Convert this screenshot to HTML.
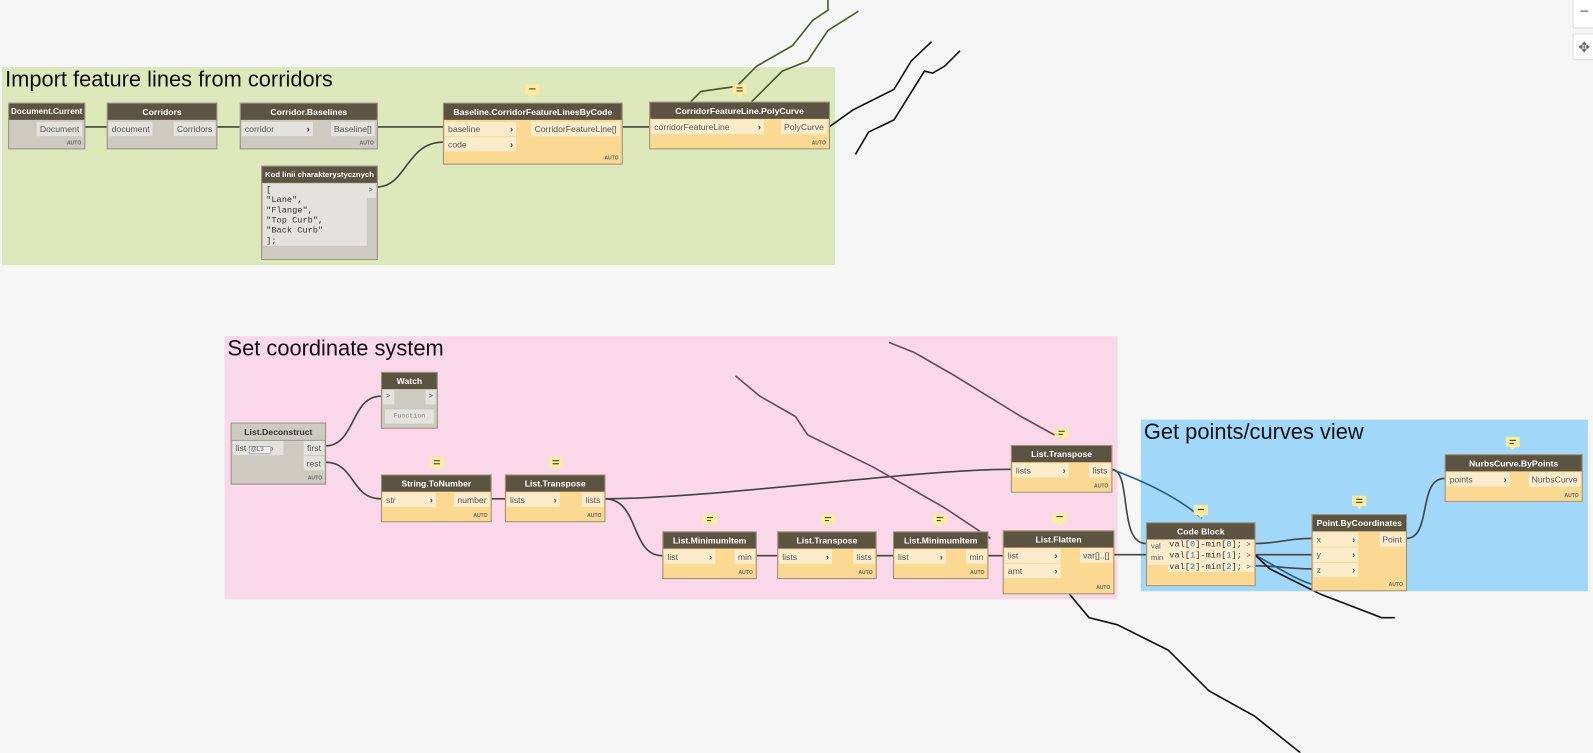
<!DOCTYPE html>
<html><head><meta charset="utf-8"><style>
body{margin:0;width:1593px;height:753px;background:#f6f6f6;position:relative;overflow:hidden;font-family:"Liberation Sans",sans-serif}
#w{position:absolute;left:0;top:0;width:1568px;height:741px;transform:scale(1.0159);transform-origin:0 0}
.g{position:absolute}
.gt{position:absolute;left:3px;top:0;font-size:21.5px;color:#111;white-space:nowrap}
.n{position:absolute;border:1px solid #9a917f;box-sizing:border-box;font-size:8.5px;color:#555}
.o{background:#fbd993}
.y{background:#cdcac2}
.h{height:16px;background:#5c5443;color:#fff;font-weight:bold;font-size:8.5px;text-align:center;line-height:16px;white-space:nowrap;overflow:hidden}
.p{position:absolute;height:14px;line-height:14px;padding:0 3px;white-space:nowrap;box-sizing:border-box}
.o .p{background:#fdeccb}
.y .p{background:#e4e2dd}
.au{position:absolute;right:3px;bottom:2px;font-size:5px;font-weight:bold;color:#666}
.ar{position:absolute;font-weight:bold;font-size:9px;color:#444}
.c{position:absolute;width:14px;height:10px;background:#fbeba0}
.c:after{content:"";position:absolute;left:4px;top:10px;border:3px solid transparent;border-top:3px solid #fbeba0}
.c i{position:absolute;left:4px;width:6px;height:1px;background:#333}
.code{font-family:"Liberation Mono",monospace;font-size:8.5px;color:#333}
</style></head><body><div id="w">
<div class="g" style="left:2px;top:66px;width:820px;height:195px;background:#dde8bb"><div class="gt" style="top:0">Import feature lines from corridors</div></div>
<div class="g" style="left:221px;top:331px;width:879px;height:259px;background:#fad7e9"><div class="gt">Set coordinate system</div></div>
<div class="g" style="left:1123px;top:413px;width:440px;height:169px;background:#a1d7f8"><div class="gt">Get points/curves view</div></div>

<svg width="1568" height="741" style="position:absolute;left:0;top:0" fill="none" stroke="#444" stroke-width="1.6">
<path d="M83 125H105M213 125H236M371 125H436"/>
<path d="M371 184C400 184 400 140 436 140"/>
<path d="M612 125H639"/>
<path d="M320 439C350 439 345 390 375 390"/>
<path d="M320 455C350 455 345 491 375 491"/>
<path d="M483 491H497"/>
<path d="M595 491C700 491 900 462 995 462"/>
<path d="M595 491C630 491 620 547 652 547"/>
<path d="M744 547H765M862 547H879M972 547H987"/>
<path d="M1094 462C1115 462 1100 535 1128 535"/>
<path d="M1096 546H1128"/>
<path d="M1235 535C1260 535 1265 530 1291 530M1235 546H1291M1235 557C1260 557 1265 560 1291 560"/>
<path d="M1384 530C1410 530 1395 471 1422 471"/>
<path d="M1094 462C1130 475 1160 490 1183 510" stroke="#1f6188"/>
<path d="M1235 546C1260 560 1275 570 1291 575" stroke="#1f6188"/>
<path d="M875 337L900 347L940 370L1005 410L1045 432" stroke="#6a4b5e"/>
<path d="M724 370L748 390L783 410L795 428L860 460L930 500L975 530" stroke="#6a4b5e"/>
<path d="M680 100L690 90L725 85L745 65L780 45L800 20L815 10V0" stroke="#4a5a2a"/>
<path d="M740 100L770 70L795 60L815 30L845 11" stroke="#4a5a2a"/>
<path d="M816 125L840 108L880 88L897 60L917 41" stroke="#111"/>
<path d="M842 152L855 130L880 118L910 70L918 72L930 65L945 50" stroke="#111"/>
<path d="M1052 584L1072 608L1100 615L1150 640L1190 680L1235 705L1280 741" stroke="#111"/>
<path d="M1235 546L1250 560L1300 585L1360 608H1373" stroke="#111"/>
</svg>

<div class="n y" style="left:8px;top:101px;width:76px;height:46px"><div class="h" style="font-size:8px">Document.Current</div><div class="p" style="right:2px;top:18px">Document</div><div class="au">AUTO</div></div>
<div class="n y" style="left:105px;top:101px;width:109px;height:46px"><div class="h">Corridors</div><div class="p" style="left:1px;top:18px">document</div><div class="p" style="right:1px;top:18px">Corridors</div></div>
<div class="n y" style="left:236px;top:101px;width:136px;height:46px"><div class="h">Corridor.Baselines</div><div class="p" style="left:1px;top:18px;width:70px">corridor<span class="ar" style="right:3px">›</span></div><div class="p" style="right:2px;top:18px">Baseline[]</div><div class="au">AUTO</div></div>
<div class="n y" style="left:257px;top:163px;width:115px;height:93px"><div class="h" style="font-size:7.6px">Kod linii charakterystycznych</div><div class="p code" style="left:1px;top:17px;width:102px;height:61px;line-height:10px;padding-top:1px">[<br>"Lane",<br>"Flange",<br>"Top Curb",<br>"Back Curb"<br>];</div><div class="p" style="right:1px;top:17px;font-size:7px">&gt;</div></div>
<div class="n o" style="left:436px;top:101px;width:177px;height:61px"><div class="h">Baseline.CorridorFeatureLinesByCode</div><div class="p" style="left:1px;top:18px;width:70px">baseline<span class="ar" style="position:absolute;right:3px">›</span></div><div class="p" style="left:1px;top:33px;width:70px">code<span class="ar" style="position:absolute;right:3px">›</span></div><div class="p" style="right:2px;top:18px">CorridorFeatureLine[]</div><div class="au">AUTO</div></div>
<div class="n o" style="left:639px;top:100px;width:178px;height:47px"><div class="h">CorridorFeatureLine.PolyCurve</div><div class="p" style="left:1px;top:17px;width:111px">corridorFeatureLine<span class="ar" style="position:absolute;right:3px">›</span></div><div class="p" style="right:2px;top:17px">PolyCurve</div><div class="au">AUTO</div></div>

<div class="n y" style="left:227px;top:416px;width:94px;height:61px"><div class="h" style="background:#cdcac2;color:#333;border-bottom:1px solid #999">List.Deconstruct</div><div class="p" style="left:1px;top:17px;width:50px">list <span style="border:1px solid #aaa;font-size:6px;padding:0 6px 0 1px;background:#eee">@L3</span>›</div><div class="p" style="right:1px;top:17px">first</div><div class="p" style="right:1px;top:32px">rest</div><div class="au">AUTO</div></div>
<div class="n y" style="left:375px;top:366px;width:56px;height:56px"><div class="h">Watch</div><div class="p" style="left:1px;top:17px;width:11px;font-size:7px">&gt;</div><div class="p" style="right:1px;top:17px;width:10px;font-size:7px">&gt;</div><div class="p code" style="left:3px;top:36px;width:48px;font-size:6.5px;color:#888;text-align:center">Function</div></div>
<div class="c" style="left:423px;top:450px"><i style="top:3px"></i><i style="top:6px"></i></div>
<div class="n o" style="left:375px;top:467px;width:109px;height:47px"><div class="h">String.ToNumber</div><div class="p" style="left:1px;top:17px;width:52px">str<span class="ar" style="position:absolute;right:3px">›</span></div><div class="p" style="right:1px;top:17px">number</div><div class="au">AUTO</div></div>
<div class="c" style="left:540px;top:450px"><i style="top:3px"></i><i style="top:6px"></i></div>
<div class="n o" style="left:497px;top:467px;width:99px;height:47px"><div class="h">List.Transpose</div><div class="p" style="left:1px;top:17px;width:52px">lists<span class="ar" style="position:absolute;right:3px">›</span></div><div class="p" style="right:1px;top:17px">lists</div><div class="au">AUTO</div></div>
<div class="c" style="left:692px;top:506px"><i style="top:3px"></i><i style="top:6px;width:4px"></i></div>
<div class="n o" style="left:652px;top:523px;width:93px;height:47px"><div class="h">List.MinimumItem</div><div class="p" style="left:1px;top:17px;width:50px">list<span class="ar" style="position:absolute;right:3px">›</span></div><div class="p" style="right:1px;top:17px">min</div><div class="au">AUTO</div></div>
<div class="c" style="left:808px;top:506px"><i style="top:3px"></i><i style="top:6px;width:4px"></i></div>
<div class="n o" style="left:765px;top:523px;width:98px;height:47px"><div class="h">List.Transpose</div><div class="p" style="left:1px;top:17px;width:52px">lists<span class="ar" style="position:absolute;right:3px">›</span></div><div class="p" style="right:1px;top:17px">lists</div><div class="au">AUTO</div></div>
<div class="c" style="left:918px;top:506px"><i style="top:3px"></i><i style="top:6px;width:4px"></i></div>
<div class="n o" style="left:879px;top:523px;width:94px;height:47px"><div class="h">List.MinimumItem</div><div class="p" style="left:1px;top:17px;width:50px">list<span class="ar" style="position:absolute;right:3px">›</span></div><div class="p" style="right:1px;top:17px">min</div><div class="au">AUTO</div></div>
<div class="c" style="left:1036px;top:505px"><i style="top:3px"></i></div>
<div class="n o" style="left:987px;top:522px;width:110px;height:63px"><div class="h">List.Flatten</div><div class="p" style="left:1px;top:17px;width:55px">list<span class="ar" style="position:absolute;right:3px">›</span></div><div class="p" style="left:1px;top:32px;width:55px">amt<span class="ar" style="position:absolute;right:3px">›</span></div><div class="p" style="right:1px;top:17px">var[]..[]</div><div class="au">AUTO</div></div>
<div class="c" style="left:1038px;top:421px"><i style="top:3px"></i><i style="top:6px;width:4px"></i></div>
<div class="n o" style="left:995px;top:438px;width:100px;height:47px"><div class="h">List.Transpose</div><div class="p" style="left:1px;top:17px;width:55px">lists<span class="ar" style="position:absolute;right:3px">›</span></div><div class="p" style="right:1px;top:17px">lists</div><div class="au">AUTO</div></div>

<div class="c" style="left:1175px;top:497px"><i style="top:4px"></i></div>
<div class="n o" style="left:1128px;top:514px;width:108px;height:63px"><div class="h">Code Block</div><div class="p" style="left:1px;top:17px;width:20px;line-height:11px;height:24px;font-size:7.5px">val<br>min</div><div class="p code" style="left:21px;top:16px;width:75px;height:32px;line-height:11px;padding:0 1px">val[<span style="color:#27c">0</span>]-min[<span style="color:#27c">0</span>];<br>val[<span style="color:#27c">1</span>]-min[<span style="color:#27c">1</span>];<br>val[<span style="color:#27c">2</span>]-min[<span style="color:#27c">2</span>];</div><div class="p" style="right:1px;top:16px;width:10px;height:32px;line-height:11px;font-size:7px">&gt;<br>&gt;<br>&gt;</div></div>
<div class="c" style="left:1331px;top:488px"><i style="top:3px"></i><i style="top:6px"></i></div>
<div class="n o" style="left:1291px;top:506px;width:94px;height:76px"><div class="h">Point.ByCoordinates</div><div class="p" style="left:1px;top:17px;width:44px">x<span class="ar" style="position:absolute;right:3px">›</span></div><div class="p" style="left:1px;top:32px;width:44px">y<span class="ar" style="position:absolute;right:3px">›</span></div><div class="p" style="left:1px;top:47px;width:44px">z<span class="ar" style="position:absolute;right:3px">›</span></div><div class="p" style="right:1px;top:17px">Point</div><div class="au">AUTO</div></div>
<div class="c" style="left:1482px;top:430px"><i style="top:3px"></i><i style="top:6px;width:4px"></i></div>
<div class="n o" style="left:1422px;top:447px;width:136px;height:47px"><div class="h">NurbsCurve.ByPoints</div><div class="p" style="left:1px;top:17px;width:62px">points<span class="ar" style="position:absolute;right:3px">›</span></div><div class="p" style="right:1px;top:17px">NurbsCurve</div><div class="au">AUTO</div></div>

<div class="c" style="left:517px;top:83px"><i style="top:4px"></i></div>
<div class="c" style="left:721px;top:83px"><i style="top:3px"></i><i style="top:6px"></i></div>

<div style="position:absolute;left:1548px;top:-2px;width:21px;height:28px;background:#fff;border:1px solid #ddd;border-radius:2px;font-size:16px;color:#666;text-align:center;line-height:26px">−</div>
<div style="position:absolute;left:1548px;top:33px;width:21px;height:24px;background:#fff;border:1px solid #ddd;border-radius:2px;font-size:14px;color:#666;text-align:center;line-height:24px">✥</div>
</div></body></html>
